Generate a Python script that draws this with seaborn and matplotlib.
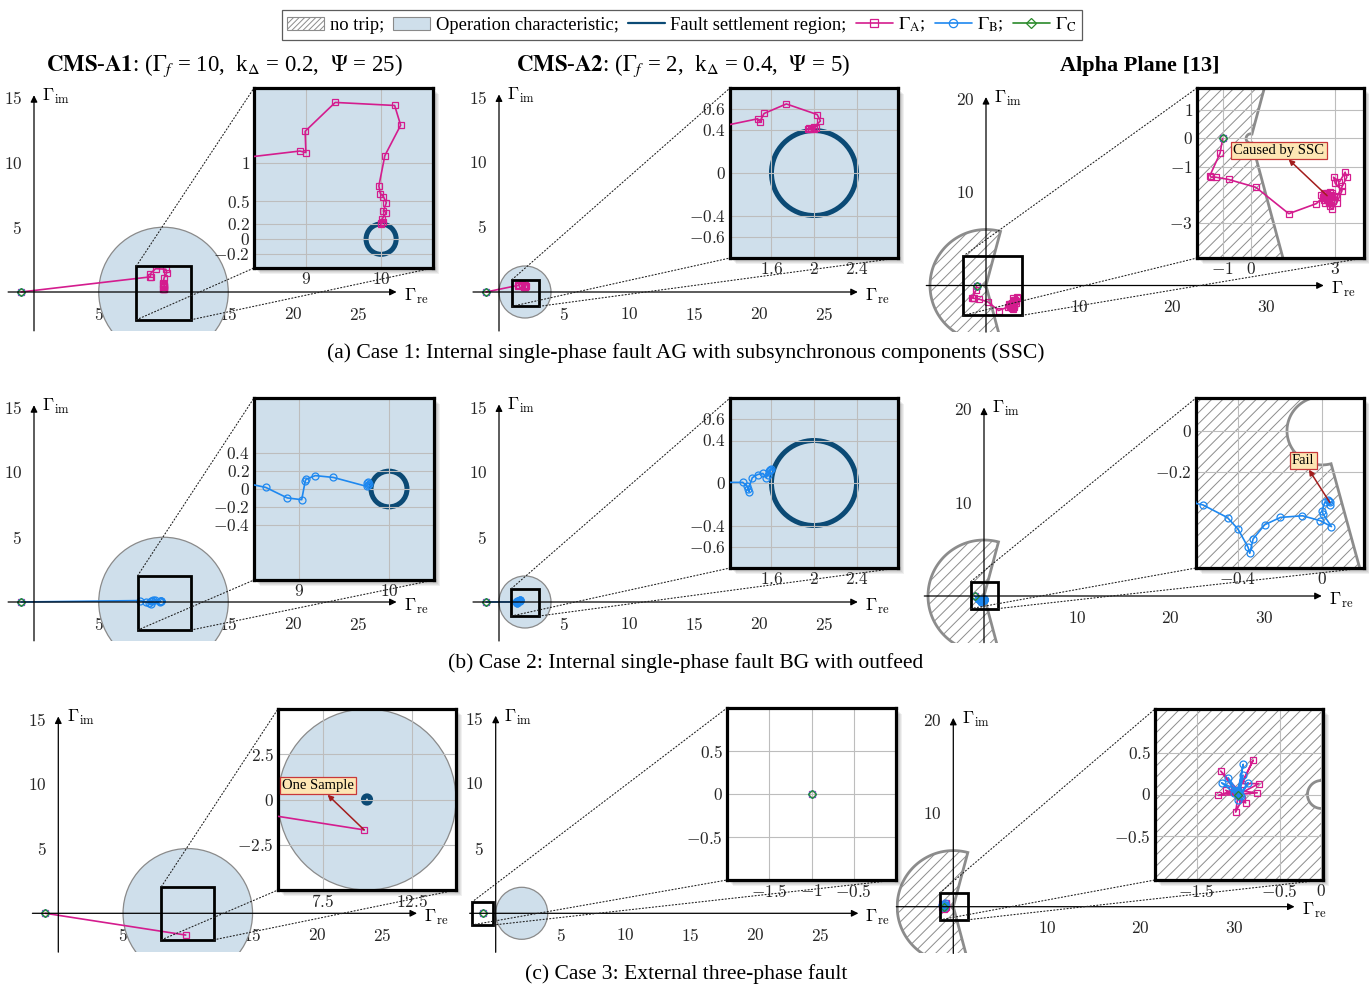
import numpy as np
import matplotlib
matplotlib.use('Agg')
import matplotlib.pyplot as plt
import seaborn as sns
from matplotlib.patches import Circle, Polygon, Rectangle, Patch, ConnectionPatch
from matplotlib.lines import Line2D

sns.set_style('white')
plt.rcParams['font.family'] = ['Liberation Serif', 'DejaVu Serif']
plt.rcParams['mathtext.fontset'] = 'cm'
plt.rcParams['text.color'] = 'black'
plt.rcParams['hatch.linewidth'] = 0.7

# ---- data ----------------------------------------------------------------
# characteristics
cms_a1 = dict(gf=10, kd=0.2, r_op=5)
cms_a2 = dict(gf=2, kd=0.4, r_op=2)
alpha_R = 6
alpha_ang = 210  # restraint angle in degrees

start_re = [-1]
start_im = [0]

# case 1: internal AG fault with SSC
c1_a1_A_re = [-1, 8.92, 9.0, 8.99, 9.39, 10.18, 10.26, 10.05, 9.97, 9.99, 10.03, 10.07, 10.03, 10.07, 10.01, 10.0, 10.02, 10.0]
c1_a1_A_im = [0, 1.16, 1.14, 1.42, 1.80, 1.76, 1.50, 1.10, 0.70, 0.60, 0.56, 0.48, 0.37, 0.35, 0.26, 0.20, 0.22, 0.21]
c1_a2_A_re = [-1, 1.47, 1.49, 1.53, 1.74, 2.03, 2.06, 2.0, 1.94, 1.97, 2.02, 1.95, 2.0]
c1_a2_A_im = [0, 0.51, 0.48, 0.56, 0.65, 0.55, 0.49, 0.43, 0.41, 0.41, 0.42, 0.42, 0.41]
c1_al_A_re = [-1, -1.09, -1.45, -1.41, -1.24, -0.79, 0.18, 1.35, 2.33, 2.55, 2.7, 2.85, 2.65, 2.5, 2.8, 2.95,
              2.8, 2.6, 2.88, 3.05, 3.24, 3.0, 2.94, 3.15, 3.35, 3.41, 3.25, 3.05, 2.75, 2.65, 2.71, 2.6, 2.78, 2.9, 2.7,
              2.62, 2.84, 2.76, 2.58, 2.92, 2.68, 2.8]
c1_al_A_im = [0, -0.52, -1.32, -1.38, -1.38, -1.46, -1.74, -2.68, -2.32, -2.1, -1.95, -2.15, -2.3, -2.0, -1.9, -2.05,
              -2.4, -2.2, -2.52, -2.3, -1.86, -1.6, -1.38, -1.55, -1.2, -1.38, -1.7, -2.1, -2.15, -2.05, -2.04, -1.95, -2.25, -1.95, -2.1,
              -2.18, -2.0, -2.3, -2.12, -2.22, -1.98, -2.08]

# case 2: internal BG fault with outfeed
c2_a1_B_re = [-1, 8.2, 8.63, 8.87, 9.03, 9.07, 9.08, 9.18, 9.38, 9.75, 9.77, 9.78, 9.76, 9.77]
c2_a1_B_im = [0, 0.11, 0.018, -0.10, -0.12, 0.093, 0.11, 0.15, 0.13, 0.03, 0.075, 0.06, 0.07, 0.05]
c2_a2_B_re = [-1, 1.33, 1.37, 1.39, 1.38, 1.42, 1.47, 1.52, 1.55, 1.57, 1.59, 1.58, 1.6, 1.59]
c2_a2_B_im = [0, 0.006, -0.03, -0.08, -0.06, 0.05, 0.08, 0.09, 0.05, 0.08, 0.125, 0.11, 0.13, 0.12]
c2_al_B_re = [-1, -0.62, -0.567, -0.45, -0.40, -0.352, -0.344, -0.328, -0.273, -0.198, -0.093, -0.008,
              0.045, 0.005, 0.0, 0.013, 0.037, 0.03, 0.04, 0.035]
c2_al_B_im = [0, -0.35, -0.362, -0.424, -0.48, -0.569, -0.598, -0.528, -0.459, -0.423, -0.415, -0.439,
              -0.468, -0.406, -0.39, -0.35, -0.35, -0.34, -0.36, -0.345]

# case 3: external three-phase fault
c3_a1_A_re = [-1, 9.84]
c3_a1_A_im = [0, -1.68]
c3_al_A_re = [-1, -1.21, -1.0, -0.82, -0.95, -0.75, -1.0, -0.77, -1.05, -1.24, -1.0, -1.03, -0.95, -0.91, -1.15, -1.0]
c3_al_A_im = [0, 0.28, 0.05, 0.41, 0.13, 0.13, 0.0, 0.02, 0.05, -0.01, 0.0, -0.21, -0.05, -0.10, 0.05, 0.0]
c3_al_B_re = [-1, -0.94, -1.0, -1.2, -1.05, -1.12, -0.98, -0.88, -1.0, -0.94, -1.02, -0.97, -1.0]
c3_al_B_im = [0, 0.36, 0.05, 0.14, 0.02, 0.2, 0.0, 0.14, -0.07, 0.23, 0.03, -0.02, 0.0]

titles = ['CMS-A1', 'CMS-A2', 'Alpha Plane [13]']
captions = ['(a) Case 1: Internal single-phase fault AG with subsynchronous components (SSC)',
            '(b) Case 2: Internal single-phase fault BG with outfeed',
            '(c) Case 3: External three-phase fault']

# ---- style -----------------------------------------------------------------
COL = {'A': '#d41c8e', 'B': '#1e88f0', 'C': '#2a8a2a'}
FAULT = '#0b4a75'
OP_FILL = '#cfdfeb'
OP_EDGE = '#8a8a8a'
NT_EDGE = '#8c8c8c'
W, H = 1369, 986
TICK_FS = 12.5

fig = plt.figure(figsize=(W / 100, H / 100), dpi=100)


def fmt(v):
    return f'${v:g}$'


def region(ax, kind, prm, inset):
    if kind == 'alpha':
        a = alpha_ang / 2
        t_out = np.radians(np.linspace(180 - a, 180 + a, 240))
        t_in = t_out[::-1]
        pts = np.r_[np.c_[alpha_R * np.cos(t_out), alpha_R * np.sin(t_out)],
                    np.c_[np.cos(t_in) / alpha_R, np.sin(t_in) / alpha_R]]
        ax.add_patch(Polygon(pts, closed=True, facecolor='none', edgecolor=NT_EDGE,
                             hatch='///', lw=2, zorder=1))
    else:
        ax.add_patch(Circle((prm['gf'], 0), prm['r_op'], facecolor=OP_FILL,
                            edgecolor=OP_EDGE, lw=0.9, zorder=1))
        if inset:
            ax.add_patch(Circle((prm['gf'], 0), prm['kd'], fill=False,
                                edgecolor=FAULT, lw=3.6, zorder=1.5))


def traj(ax, series):
    for key, mk, ms in [('A', 's', 5), ('B', 'o', 5), ('C', 'D', 4.2)]:
        xs, ys = series.get(key, (start_re, start_im))
        sns.lineplot(x=xs, y=ys, ax=ax, sort=False, estimator=None, color=COL[key],
                     marker=mk, ms=ms, mfc='none', mec=COL[key], mew=0.9, lw=1.2, zorder=4)


def shadow(box):
    l, t, r, b = box
    for d in range(1, 7):
        fig.add_artist(Rectangle(((l + d) / W, 1 - (b + d) / H), (r - l) / W, (b - t) / H,
                                 transform=fig.transFigure, facecolor='k', alpha=0.06,
                                 edgecolor='none', zorder=4))


def panel(p, kind, prm, series, note=None):
    ox, oy, s = p['ox'], p['oy'], p['s']
    x0, x1 = p['xlim']
    y0, y1 = p['ylim']
    l, r = ox + x0 * s, ox + x1 * s
    t, b = oy - y1 * s, oy - y0 * s
    ax = fig.add_axes([l / W, 1 - b / H, (r - l) / W, (b - t) / H])
    ax.patch.set_alpha(0)
    region(ax, kind, prm, False)
    traj(ax, series)
    ax.set_xlim(x0, x1)
    ax.set_ylim(y0, y1)
    for sp in ['top', 'right', 'left', 'bottom']:
        ax.spines[sp].set_visible(False)
    ax.spines['left'].set_position(('data', 0))
    ax.spines['bottom'].set_position(('data', 0))
    ax.set_xticks(p['xt'], labels=[fmt(v) for v in p['xt']])
    ax.set_yticks(p['yt'], labels=[fmt(v) for v in p['yt']])
    ax.tick_params(axis='both', direction='inout', length=7, width=0.8, color='#808080', labelsize=TICK_FS)
    ax.tick_params(axis='x', pad=7)
    ax.tick_params(axis='y', pad=5)
    ax.set_xlabel('')
    ax.set_ylabel('')
    arrow = dict(arrowstyle='-|>', color='k', lw=0.9, mutation_scale=10, shrinkA=0, shrinkB=0)
    ax.annotate('', xy=(x1, 0), xytext=(x0, 0), arrowprops=arrow, annotation_clip=False, zorder=6)
    ax.annotate('', xy=(0, y1), xytext=(0, y0), arrowprops=arrow, annotation_clip=False, zorder=6)
    ax.annotate(r'$\Gamma_{\mathrm{re}}$', xy=(x1, 0), xytext=(5, -3), textcoords='offset points',
                va='center', ha='left', fontsize=13, annotation_clip=False)
    ax.annotate(r'$\Gamma_{\mathrm{im}}$', xy=(0, y1), xytext=(6, -1), textcoords='offset points',
                va='center', ha='left', fontsize=13, annotation_clip=False)
    rx, ry, rw, rh = p['rect']
    ax.add_patch(Rectangle((rx, ry), rw, rh, fill=False, edgecolor='k', lw=2, zorder=7))

    # magnified view
    il, it, ir, ib = p['box']
    shadow(p['box'])
    ins = fig.add_axes([il / W, 1 - ib / H, (ir - il) / W, (ib - it) / H])
    ins.set_zorder(5)
    ins.set_facecolor('white')
    region(ins, kind, prm, True)
    traj(ins, series)
    ins.set_xlim(p['ixl'])
    ins.set_ylim(p['iyl'])
    for v in p['ixt']:
        ins.axvline(v, color='#bdbdbd', lw=0.8, zorder=2)
    for v in p['iyt']:
        ins.axhline(v, color='#bdbdbd', lw=0.8, zorder=2)
    ins.set_xticks(p['ixt'], labels=[fmt(v) for v in p['ixt']])
    ins.set_yticks(p['iyt'], labels=[fmt(v) for v in p['iyt']])
    ins.tick_params(direction='in', length=3, width=0.8, color='#555555', labelsize=TICK_FS, pad=3)
    ins.set_xlabel('')
    ins.set_ylabel('')
    for sp in ins.spines.values():
        sp.set_visible(True)
        sp.set_color('k')
        sp.set_linewidth(2.3)
    if note is not None:
        txt, xy, xytext = note
        ins.annotate(txt, xy=xy, xytext=xytext, fontsize=10.5, ha='center', va='center', zorder=8,
                     bbox=dict(boxstyle='square,pad=0.15', fc='#fde6b4', ec='#c8383a', lw=0.9),
                     arrowprops=dict(arrowstyle='<|-', color='#a31d1d', lw=1.1, mutation_scale=8,
                                     shrinkA=0, shrinkB=0))

    for (cx, cy), (fx, fy) in [((rx, ry + rh), (0, 1)), ((rx, ry), (0, 0)), ((rx + rw, ry), (1, 0))]:
        con = ConnectionPatch(xyA=(cx, cy), coordsA='data', axesA=ax, xyB=(fx, fy),
                              coordsB='axes fraction', axesB=ins, ls=(0, (1, 2)), lw=0.8, color='#222222')
        con.set_zorder(3)
        fig.add_artist(con)


# ---- panels ------------------------------------------------------------------
cms1 = dict(s=12.95, ylim=(-3, 15.2), xt=[5, 10, 15, 20, 25], yt=[5, 10, 15])
cms2 = dict(s=13.0, ylim=(-3, 15.2), xt=[5, 10, 15, 20, 25], yt=[5, 10, 15])
alp = dict(s=9.33, ylim=(-5, 20.2), xt=[10, 20, 30], yt=[10, 20])

# row a
panel(dict(cms1, ox=34, oy=292, xlim=(-2, 28), box=(254, 88, 433, 268), ixl=(8.31, 10.69), iyl=(-0.38, 1.99),
           ixt=[9, 10], iyt=[-0.2, 0, 0.2, 0.5, 1], rect=(7.9, -2.15, 4.2, 4.15)),
      'cms', cms_a1, {'A': (c1_a1_A_re, c1_a1_A_im)})
panel(dict(cms2, ox=499, oy=292, xlim=(-2, 27.6), box=(730, 88, 898, 258), ixl=(1.21, 2.79), iyl=(-0.8, 0.8),
           ixt=[1.6, 2, 2.4], iyt=[-0.6, -0.4, 0, 0.4, 0.6], rect=(1.0, -1.1, 2.1, 2.05)),
      'cms', cms_a2, {'A': (c1_a2_A_re, c1_a2_A_im)})
panel(dict(alp, ox=986, oy=285.5, xlim=(-6.4, 36.2), box=(1197, 88, 1364, 258), ixl=(-1.91, 4.02), iyl=(-4.26, 1.8),
           ixt=[-1, 0, 3], iyt=[-3, -1, 0, 1], rect=(-2.45, -3.2, 6.3, 6.35)),
      'alpha', None, {'A': (c1_al_A_re, c1_al_A_im)},
      note=('Caused by SSC', (c1_al_A_re[30], c1_al_A_im[30]), (1.0, -0.42)))

# row b
panel(dict(cms1, ox=34, oy=602, xlim=(-2, 28), box=(254, 398, 434, 580), ixl=(8.5, 10.5), iyl=(-1.02, 1.02),
           ixt=[9, 10], iyt=[-0.4, -0.2, 0, 0.2, 0.4], rect=(8.0, -2.17, 4.1, 4.2)),
      'cms', cms_a1, {'B': (c2_a1_B_re, c2_a1_B_im)})
panel(dict(cms2, ox=499, oy=602, xlim=(-2, 27.6), box=(730, 398, 898, 568), ixl=(1.21, 2.79), iyl=(-0.8, 0.8),
           ixt=[1.6, 2, 2.4], iyt=[-0.6, -0.4, 0, 0.4, 0.6], rect=(0.95, -1.08, 2.12, 2.11)),
      'cms', cms_a2, {'B': (c2_a2_B_re, c2_a2_B_im)})
panel(dict(alp, ox=984, oy=596, xlim=(-6.4, 36.2), box=(1196, 398, 1364, 568), ixl=(-0.6, 0.2), iyl=(-0.67, 0.16),
           ixt=[-0.4, 0], iyt=[-0.2, 0], rect=(-1.41, -1.35, 2.9, 2.9)),
      'alpha', None, {'B': (c2_al_B_re, c2_al_B_im)},
      note=('Fail', (c2_al_B_re[16], c2_al_B_im[16]), (-0.09, -0.145)))

# row c
panel(dict(cms1, ox=58.3, oy=913.3, xlim=(-2, 27.7), box=(278, 709, 456, 890), ixl=(5, 15), iyl=(-5, 5),
           ixt=[7.5, 12.5], iyt=[-2.5, 0, 2.5], rect=(7.96, -2.05, 4.04, 4.11)),
      'cms', cms_a1, {'A': (c3_a1_A_re, c3_a1_A_im)},
      note=('One Sample', (c3_a1_A_re[1], c3_a1_A_im[1]), (7.25, 0.77)))
panel(dict(cms2, ox=495.7, oy=913.3, xlim=(-2, 27.9), box=(727, 708, 896, 880), ixl=(-2, 0), iyl=(-1, 1),
           ixt=[-1.5, -1, -0.5], iyt=[-0.5, 0, 0.5], rect=(-1.85, -0.9, 1.67, 1.75)),
      'cms', cms_a2, {})
panel(dict(alp, s=9.35, ox=953.3, oy=906.7, xlim=(-6.1, 36.5), box=(1155, 709, 1323, 880), ixl=(-2, 0.02),
           iyl=(-1.02, 1.02), ixt=[-1.5, -0.5, 0], iyt=[-0.5, 0, 0.5], rect=(-1.41, -1.4, 2.94, 2.9)),
      'alpha', None, {'A': (c3_al_A_re, c3_al_A_im), 'B': (c3_al_B_re, c3_al_B_im)})

# ---- titles, captions, legend ------------------------------------------------
fig.text(225 / W, 1 - 66 / H, r'$\mathbf{CMS}$-$\mathbf{A1}$: ($\Gamma_f$ = 10,  k$_\Delta$ = 0.2,  $\Psi$ = 25)',
         ha='center', va='center', fontsize=16.5, math_fontfamily='stix')
fig.text(683 / W, 1 - 66 / H, r'$\mathbf{CMS}$-$\mathbf{A2}$: ($\Gamma_f$ = 2,  k$_\Delta$ = 0.4,  $\Psi$ = 5)',
         ha='center', va='center', fontsize=16.5, math_fontfamily='stix')
fig.text(1140 / W, 1 - 66 / H, titles[2], ha='center', va='center', fontsize=16, weight='bold')
for y, cap in zip([353, 663, 974], captions):
    fig.text(686 / W, 1 - y / H, cap, ha='center', va='center', fontsize=15.6)

handles = [Patch(facecolor='white', edgecolor=NT_EDGE, hatch='//////', lw=0.8),
           Patch(facecolor=OP_FILL, edgecolor=OP_EDGE, lw=0.8),
           Line2D([], [], color=FAULT, lw=1.6),
           Line2D([], [], color=COL['A'], lw=1.2, marker='s', ms=6, mfc='none', mew=0.9),
           Line2D([], [], color=COL['B'], lw=1.2, marker='o', ms=6, mfc='none', mew=0.9),
           Line2D([], [], color=COL['C'], lw=1.2, marker='D', ms=5, mfc='none', mew=0.9)]
labels = ['no trip;', 'Operation characteristic;', 'Fault settlement region;',
          r'$\Gamma_\mathrm{A}$;', r'$\Gamma_\mathrm{B}$;', r'$\Gamma_\mathrm{C}$']
leg = fig.legend(handles, labels, loc='center', bbox_to_anchor=(682 / W, 1 - 25 / H), ncol=6,
                 fontsize=13.3, frameon=True, fancybox=False, edgecolor='#333333', handlelength=2.0,
                 handletextpad=0.3, columnspacing=0.5, borderpad=0.3)
leg.get_frame().set_linewidth(0.9)
for t in leg.get_texts():
    t.set_math_fontfamily('stix')

fig.savefig('out.png', dpi=100)
